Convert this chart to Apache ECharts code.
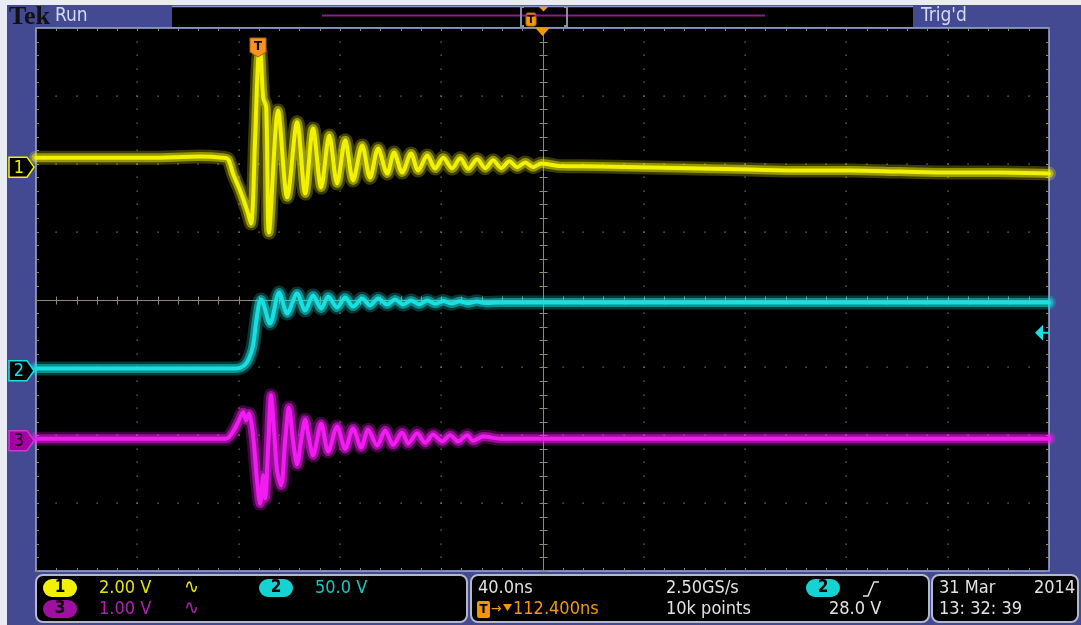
<!DOCTYPE html>
<html><head><meta charset="utf-8">
<script src="https://cdn.jsdelivr.net/npm/echarts@6/dist/echarts.min.js"></script>
<style>html,body{margin:0;padding:0;background:#434A91;overflow:hidden}#chart{width:1081px;height:625px}</style>
</head><body><div id="chart"></div>
<script>
// ---- time base: ns from left edge of screen (10 div x 40 ns) ----
const ch1Time = [0,25.3,45.0,64.8,73.5,75.9,77.8,80.6,83.4,84.9,86.5,87.7,88.5,89.7,90.9,92.0,95.6,99.2,103.1,106.3,109.4,112.6,115.8,118.9,122.1,125.2,128.8,131.9,135.1,138.7,141.4,144.6,148.1,150.9,154.5,157.6,160.8,164.3,167.5,170.7,174.2,177.4,180.5,183.7,186.9,190.0,193.2,196.3,199.5,207.0,222.8,242.6,262.3,282.1,301.8,321.6,341.3,361.1,380.8,400];
const ch1Volts = [0.28,0.28,0.28,0.31,0.28,0.23,-0.19,-0.69,-1.28,-1.66,0.79,3.14,3.44,2.05,1.76,-1.93,1.67,-0.89,1.32,-0.78,1.14,-0.60,0.93,-0.48,0.79,-0.39,0.64,-0.31,0.55,-0.19,0.43,-0.16,0.40,-0.10,0.34,-0.04,0.28,-0.04,0.26,-0.05,0.23,-0.03,0.20,-0.03,0.17,0.00,0.14,0.00,0.11,0.03,0.02,-0.01,-0.04,-0.07,-0.10,-0.10,-0.13,-0.16,-0.16,-0.19];

const ch2Time = [0,45.0,79.0,82.2,84.1,85.7,86.9,88.1,88.9,92.4,96.0,99.2,103.1,106.3,109.4,112.6,115.4,118.9,122.1,125.2,128.8,131.9,135.1,138.7,141.8,145.0,148.1,151.3,154.5,157.6,160.8,164.0,167.5,170.7,174.0,177.4,183.3,222.8,262.3,301.8,341.3,400];
const ch2Volts = [1.7,1.7,1.7,3.9,9.0,18.6,35.6,49.6,52.5,34.8,57.7,42.2,56.9,44.4,55.4,45.9,54.7,46.6,54.0,47.3,53.2,48.1,53.2,48.8,52.5,48.8,51.8,48.8,51.8,49.3,51.4,49.5,51.2,49.7,51.0,50.0,50.3,50.3,50.3,50.3,50.3,50.3];

const ch3Time = [0,45.0,75.1,77.4,79.8,81.8,83.0,84.1,85.7,87.3,88.5,89.7,90.5,91.7,92.8,94.0,95.2,96.8,98.4,99.9,101.5,103.1,104.7,106.3,107.8,109.4,112.6,115.4,118.9,122.1,125.2,128.4,131.2,134.7,137.9,141.0,144.6,147.0,150.5,153.7,156.8,160.4,163.5,166.7,170.3,172.6,176.6,183.3,222.8,262.3,301.8,341.3,400];
const ch3Volts = [0.03,0.03,0.03,0.11,0.27,0.42,0.30,0.40,0.08,-0.59,-0.93,-0.51,-0.85,-0.07,0.67,0.15,-0.44,-0.66,0.00,0.49,0.00,-0.35,0.00,0.31,0.03,-0.22,0.25,-0.16,0.21,-0.12,0.18,-0.10,0.16,-0.07,0.15,-0.06,0.12,-0.04,0.11,-0.03,0.09,-0.01,0.08,-0.01,0.08,0.00,0.06,0.03,0.03,0.03,0.03,0.03,0.03];

// channel settings: volts/div and ground position (div from screen centre)
const chScale = [2.00, 50.0, 1.00];
const chPos = [1.95, -1.05, -2.08];
const trigLevel = 28.0;            // V on ch2
const horizDelay = 112.4;          // ns, trigger -> centre
const timePerDiv = 40;             // ns
const xDivs = 10, yDivs = 8;

// readout texts
const chLabels = ['2.00 V', '50.0 V', '1.00 V'];
const timeLabel = '40.0ns';
const rateLabel = '2.50GS/s';
const pointsLabel = '10k points';
const delayLabel = '112.400ns';
const trigLabel = '28.0 V';
const dateLabel = ['31 Mar', '2014'];
const clockLabel = '13: 32: 39';

const FONT = '"DejaVu Sans Condensed","DejaVu Sans",sans-serif';
const YEL = '#F2F200', CYA = '#18E0E0', MAG = '#F21CF2';

const chart = echarts.init(document.getElementById('chart'), null, {renderer:'canvas'});
const XMAX = xDivs * timePerDiv, YMAX = yDivs / 2;

function mk(times, volts, ci) {
  return times.map((t, i) => [t, chPos[ci] + volts[i] / chScale[ci]]);
}
const tr1 = mk(ch1Time, ch1Volts, 0), tr2 = mk(ch2Time, ch2Volts, 1), tr3 = mk(ch3Time, ch3Volts, 2);

function graticule(params, api) {
  const ch = [];
  const dot = '#8a8a6c', cl = '#8e8872';
  const P = (t, d) => api.coord([t, d]);
  const tl = P(0, YMAX), br = P(XMAX, -YMAX);
  const L = tl[0], T = tl[1], R = br[0], B = br[1];
  const nx = xDivs * 5, ny = yDivs * 5;
  for (let k = 1; k < xDivs; k++) {
    if (k === xDivs / 2) continue;
    for (let j = 0; j <= ny; j++) {
      const p = P(k * timePerDiv, -YMAX + j * 0.2);
      ch.push({type:'rect', shape:{x:Math.round(p[0]) - 0.5, y:Math.round(p[1]) - 0.5, width:1.2, height:1.2}, style:{fill:dot}});
    }
  }
  for (let m = 1; m < yDivs; m++) {
    if (m === yDivs / 2) continue;
    for (let i = 0; i <= nx; i++) {
      const p = P(i * timePerDiv / 5, -YMAX + m);
      ch.push({type:'rect', shape:{x:Math.round(p[0]) - 0.5, y:Math.round(p[1]) - 0.5, width:1.2, height:1.2}, style:{fill:dot}});
    }
  }
  const c = P(XMAX / 2, 0);
  const cx = Math.round(c[0]) + 0.5, cy = Math.round(c[1]) + 0.5;
  ch.push({type:'line', shape:{x1:cx, y1:T, x2:cx, y2:B}, style:{stroke:cl, lineWidth:1}});
  ch.push({type:'line', shape:{x1:L, y1:cy, x2:R, y2:cy}, style:{stroke:cl, lineWidth:1}});
  for (let j = 0; j <= ny; j++) {
    const p = P(XMAX / 2, -YMAX + j * 0.2);
    const y = Math.round(p[1]) + 0.5;
    ch.push({type:'line', shape:{x1:cx - 4, y1:y, x2:cx + 4, y2:y}, style:{stroke:cl, lineWidth:1}});
    ch.push({type:'line', shape:{x1:L, y1:y, x2:L + 3, y2:y}, style:{stroke:dot, lineWidth:1}});
    ch.push({type:'line', shape:{x1:R - 3, y1:y, x2:R, y2:y}, style:{stroke:dot, lineWidth:1}});
  }
  for (let i = 0; i <= nx; i++) {
    const p = P(i * timePerDiv / 5, 0);
    const x = Math.round(p[0]) + 0.5;
    ch.push({type:'line', shape:{x1:x, y1:cy - 4, x2:x, y2:cy + 4}, style:{stroke:cl, lineWidth:1}});
    ch.push({type:'line', shape:{x1:x, y1:T, x2:x, y2:T + 3}, style:{stroke:dot, lineWidth:1}});
    ch.push({type:'line', shape:{x1:x, y1:B - 3, x2:x, y2:B}, style:{stroke:dot, lineWidth:1}});
  }
  return {type:'group', children:ch, silent:true};
}

function traces(data, core, z) {
  const base = {type:'line', data, symbol:'none', smooth:0.3, silent:true};
  return [
    Object.assign({}, base, {z:z, lineStyle:{color:core, width:14, opacity:0.25, cap:'round', join:'round'}}),
    Object.assign({}, base, {z:z + 1, lineStyle:{color:core, width:9, opacity:0.5, cap:'round', join:'round'}}),
    Object.assign({}, base, {z:z + 2, lineStyle:{color:core, width:4, opacity:1, cap:'round', join:'round'}})
  ];
}

chart.setOption({
  animation:false,
  backgroundColor:'#434A91',
  grid:{left:36, top:28, width:1013, height:543, show:true, backgroundColor:'#000', borderColor:'#9CB0E2', borderWidth:1.5},
  xAxis:{type:'value', min:0, max:XMAX, interval:timePerDiv, show:false},
  yAxis:{type:'value', min:-YMAX, max:YMAX, interval:1, show:false},
  series:[
    {type:'custom', renderItem:graticule, data:[[0,0]], z:1, silent:true, clip:false},
    ...traces(tr1, YEL, 3),
    ...traces(tr2, CYA, 3),
    ...traces(tr3, MAG, 3)
  ]
});

function px(t, d) { return chart.convertToPixel({gridIndex:0}, [t, d]); }
function txt(x, y, text, fill, size, opts) {
  opts = opts || {};
  return {type:'text', x:x, y:y, z:100, silent:true,
    style:{text:text, fill:fill, font:(opts.weight || 'normal') + ' ' + size + 'px ' + (opts.family || FONT),
      align:opts.align || 'left', verticalAlign:'middle', textAlign:opts.align || 'left', textVerticalAlign:'middle'}};
}
function rect(x, y, w, h, fill, stroke, r, lw) {
  return {type:'rect', z:99, silent:true, shape:{x:x, y:y, width:w, height:h, r:r || 0},
    style:{fill:fill, stroke:stroke || null, lineWidth:lw || 1}};
}
function poly(points, fill, stroke, lw) {
  return {type:'polygon', z:100, silent:true, shape:{points:points}, style:{fill:fill, stroke:stroke || null, lineWidth:lw || 1}};
}
function pline(points, stroke, lw) {
  return {type:'polyline', z:100, silent:true, shape:{points:points}, style:{stroke:stroke, lineWidth:lw || 1, fill:null}};
}

const g = [];
g.push(rect(0, 0, 1081, 5, '#E9ECF3'));
g.push(rect(0, 0, 7, 625, '#E9ECF3'));
// top bar
g.push(txt(9, 17, 'Tek', '#111', 26, {weight:'bold', family:'"Liberation Serif","DejaVu Serif",serif'}));
g.push(txt(55, 16, 'Run', '#D6DAF0', 19));
g.push(rect(172, 6, 741, 21, '#000', null));
g.push(pline([[172, 6.5], [913, 6.5]], '#8F98CC', 1.5));
g.push(pline([[322, 15.5], [765, 15.5]], '#8A1C8A', 2));
g.push(pline([[524, 7], [521, 7], [521, 26], [524, 26]], '#8C8CA4', 2));
g.push(pline([[564, 7], [567, 7], [567, 26], [564, 26]], '#8C8CA4', 2));
g.push(rect(526, 13, 10, 13, '#F59A00', '#C86A00', 2, 1));
g.push(txt(531, 20, 'T', '#000', 11, {weight:'bold', align:'center'}));
g.push(poly([[539, 7], [548, 7], [543.5, 11.5]], '#F59A00'));
g.push(txt(921, 16, "Trig'd", '#D6DAF0', 19));

// channel ground markers
const mkCol = [
  {fill:'#000', stroke:YEL, text:YEL},
  {fill:'#000', stroke:CYA, text:CYA},
  {fill:'#A400A4', stroke:'#C83CC8', text:'#000'}
];
chPos.forEach((pos, i) => {
  const yc = px(0, pos)[1];
  g.push(poly([[9, yc - 10], [27, yc - 10], [34, yc], [27, yc + 10], [9, yc + 10]], mkCol[i].fill, mkCol[i].stroke, 1.5));
  g.push(txt(19, yc + 1, String(i + 1), mkCol[i].text, 18, {align:'center'}));
});
// trigger level arrow (ch2)
{
  const p = px(XMAX, chPos[1] + trigLevel / chScale[1]);
  const x = p[0], y = p[1];
  g.push(poly([[x - 14, y], [x - 6, y - 8], [x - 6, y + 8]], CYA));
  g.push(pline([[x - 7, y], [x, y]], CYA, 2));
}
// trigger position marker
{
  const p = px(XMAX / 2 - horizDelay, YMAX);
  const x = Math.round(p[0]), t = p[1];
  g.push(poly([[x - 8, t + 10], [x + 8, t + 10], [x + 8, t + 24], [x, t + 29], [x - 8, t + 24]], '#F7941D', '#B86000', 1));
  g.push(txt(x, t + 19, 'T', '#000', 13, {weight:'bold', align:'center'}));
  const c = px(XMAX / 2, YMAX);
  g.push(poly([[c[0] - 7, c[1]], [c[0] + 7, c[1]], [c[0], c[1] + 8]], '#F59A00'));
}

// bottom readout boxes
g.push(rect(36, 575, 431, 47, '#000', '#B4B8CC', 7, 2));
g.push(rect(471, 575, 458, 47, '#000', '#B4B8CC', 7, 2));
g.push(rect(932, 575, 146, 47, '#000', '#B4B8CC', 7, 2));
const R1 = 588, R2 = 609, FS = 18;
g.push(rect(43, 579, 34, 18, YEL, null, 9));
g.push(txt(60, R1, '1', '#000', 17, {weight:'bold', align:'center'}));
g.push(txt(99, R1, chLabels[0], '#E4E400', FS));
g.push(txt(184, R1, '∿', '#E4E400', 20));
g.push(rect(259, 579, 34, 18, '#16D2D2', null, 9));
g.push(txt(276, R1, '2', '#000', 17, {weight:'bold', align:'center'}));
g.push(txt(315, R1, chLabels[1], '#16C8C8', FS));
g.push(rect(43, 600, 34, 18, '#A010A0', null, 9));
g.push(txt(60, R2, '3', '#000', 17, {weight:'bold', align:'center'}));
g.push(txt(99, R2, chLabels[2], '#B020B0', FS));
g.push(txt(184, R2, '∿', '#B020B0', 20));
const WT = '#E2E2E2';
g.push(txt(478, R1, timeLabel, WT, FS));
g.push(txt(666, R1, rateLabel, WT, FS));
g.push(rect(806, 579, 34, 18, '#16D2D2', null, 9));
g.push(txt(823, R1, '2', '#000', 17, {weight:'bold', align:'center'}));
g.push(pline([[863, 596], [868, 596], [874, 582], [879, 582]], WT, 1.5));
g.push(rect(477, 601, 13, 17, '#F29600', null, 2));
g.push(txt(483.5, R2 + 1, 'T', '#000', 13, {weight:'bold', align:'center'}));
g.push(txt(491, R2, '→', '#F29A00', 14));
g.push(poly([[503, 604], [512, 604], [507.5, 611]], '#F29A00'));
g.push(txt(513, R2, delayLabel, '#F29A00', FS));
g.push(txt(666, R2, pointsLabel, WT, FS));
g.push(txt(829, R2, trigLabel, WT, FS));
g.push(txt(939, R1, dateLabel[0], WT, FS));
g.push(txt(1034, R1, dateLabel[1], WT, FS));
g.push(txt(939, R2, clockLabel, WT, FS));

chart.setOption({graphic:{elements:g}});
</script></body></html>
